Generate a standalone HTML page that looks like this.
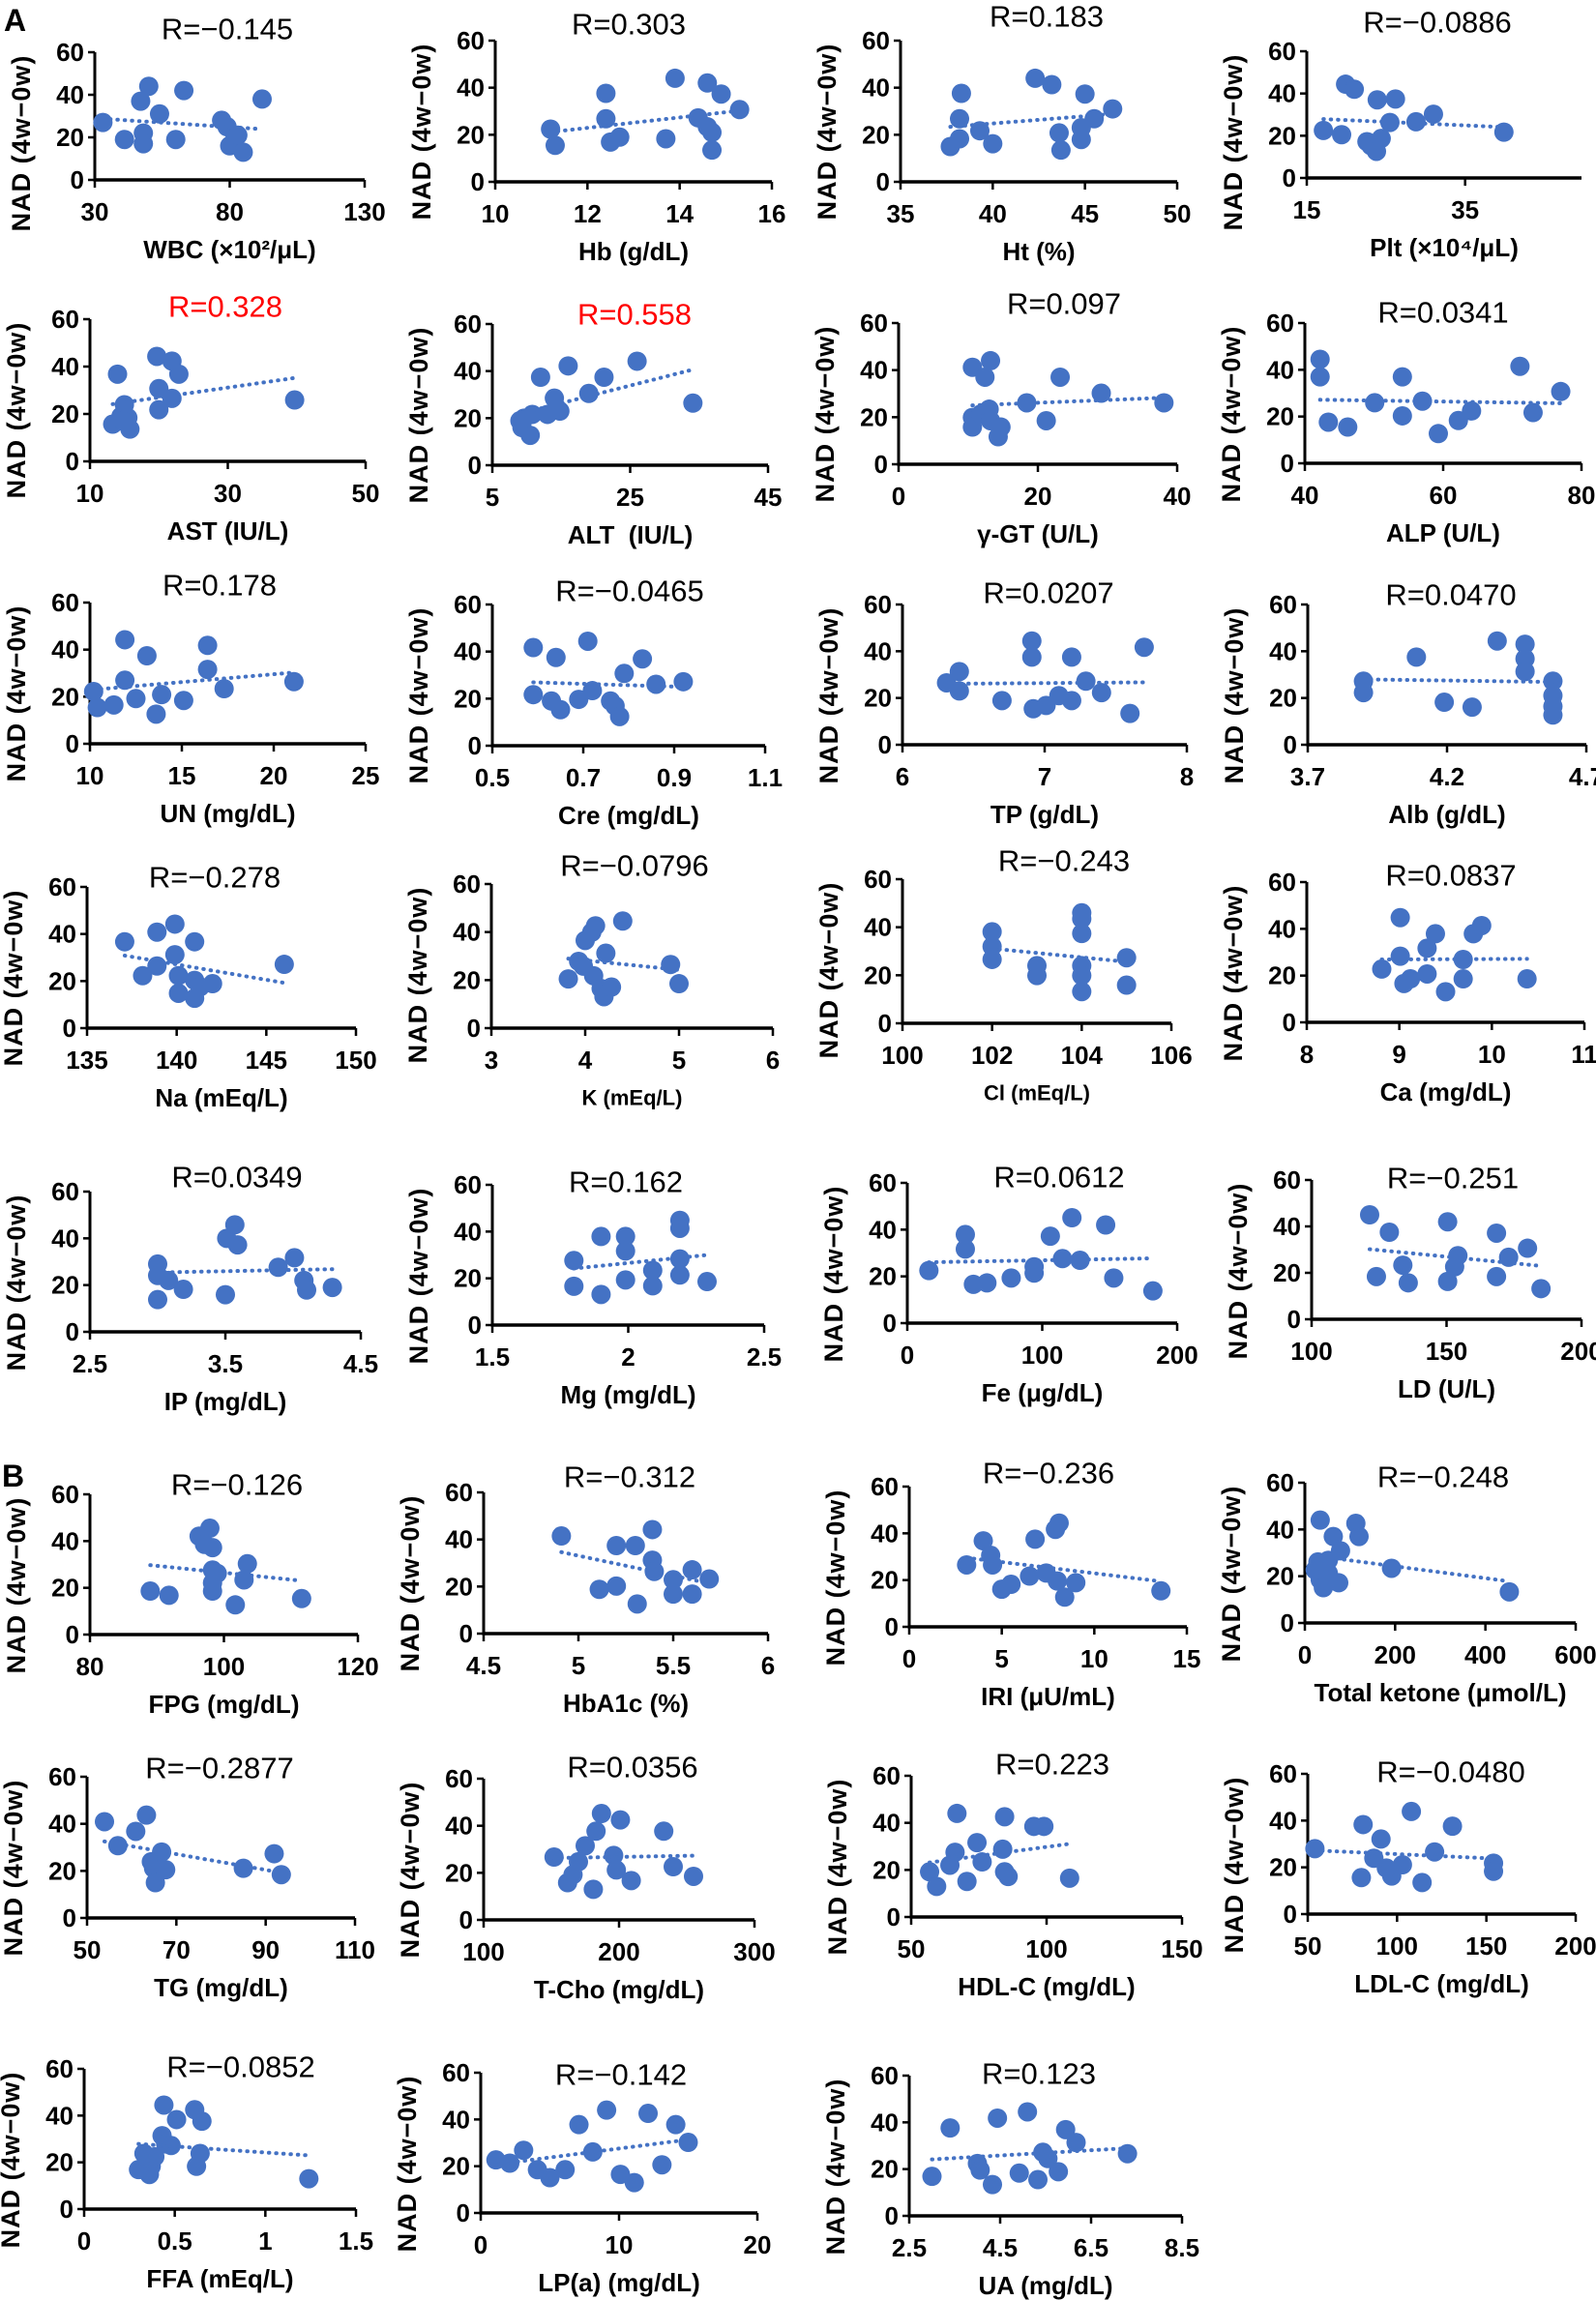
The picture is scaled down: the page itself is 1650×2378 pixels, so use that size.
<!DOCTYPE html>
<html><head><meta charset="utf-8"><title>NAD correlations</title>
<style>
html,body{margin:0;padding:0;background:#fff;}
svg{display:block;font-family:"Liberation Sans",Arial,sans-serif;}
</style></head>
<body>
<svg id="fig" xmlns="http://www.w3.org/2000/svg" width="1650" height="2378" viewBox="0 0 1650 2378">
<rect width="1650" height="2378" fill="#fff"/>
<text x="4" y="32" font-size="32" font-weight="bold">A</text>
<text x="2" y="1537" font-size="32" font-weight="bold">B</text>
</svg>
<script>
// ---- data (x values, NAD 4w-0w values) ----
const wbcX=[33,41,47,48,48,50,54,60,63,77,79,80,82,83,85,92];
const wbcY=[27,19,37,22,17,44,31,19,42,28,25,16,20,21,13,38];
const hbX=[11.2,11.3,12.4,12.4,12.5,12.7,13.7,13.9,14.4,14.6,14.6,14.7,14.7,14.9,15.3];
const hbY=[22.4,15.5,37.6,26.8,16.9,19,18.3,44,27.2,42,23.4,21,13.5,37.3,30.7];
const htX=[37.7,38.2,38.2,38.3,39.3,40,42.3,43.2,43.6,43.7,44.8,44.8,45,45.5,46.5];
const htY=[15,18.3,26.8,37.6,21.7,16.2,44,41.3,20.8,13.5,23,18,37.3,26.8,31];
const pltX=[17.1,19.4,19.9,21,22.6,23.1,23.8,23.9,24.4,25.5,26.2,28.8,31,39.9];
const pltY=[22.5,20.5,44.4,42,17.2,15.3,12.6,37,18.7,26.3,37.4,26.6,30.2,21.7];
const astX=[13.3,14,14.5,15,15.5,15.8,14.8,19.7,20,20,21.9,21.9,22.9,39.7];
const astY=[15.7,36.8,19,23.9,18.4,13.6,17,44.3,30.7,21.8,42.3,26.6,36.8,25.9];
const altX=[9,9.3,10.5,10.8,12,13,14,14.8,16,19,21.2,26,34.1,9.3,9.6];
const altY=[18.9,16,12.7,21.6,37.4,21.6,28.5,23,42.2,30.5,37.4,44.2,26.4,18,20];
const ggtX=[10.6,12.4,13.2,10.6,10.6,11.8,13,13.2,14.3,14.7,18.4,21.2,23.2,29.1,38.1];
const ggtY=[41.2,37,44,19.9,15.8,21.3,23.4,18.5,11.7,15.8,26.1,18.5,37,30.2,26.1];
const alpX=[42.2,42.2,43.4,46.2,50.1,54.1,54.1,57,59.3,62.2,64.1,71.1,73,77];
const alpY=[44.5,37,17.6,15.5,25.9,37,20.3,26.6,12.7,18.3,22.4,41.5,21.7,30.7];
const unX=[10.2,10.4,11.3,11.9,11.9,12.5,13.1,13.6,13.9,15.1,16.4,16.4,17.3,21.1];
const unY=[22.2,15.4,16.5,44.2,27,19.2,37.4,12.6,20.9,18.4,41.8,31.6,23.4,26.4];
const creX=[0.59,0.59,0.63,0.64,0.65,0.69,0.71,0.72,0.76,0.77,0.78,0.79,0.83,0.86,0.92];
const creY=[41.7,21.7,19,37.5,15.3,19.7,44.4,23.4,19,16.9,12.4,30.7,36.9,26.1,27.2];
const tpX=[6.31,6.4,6.4,6.7,6.91,6.91,6.92,7.01,7.1,7.19,7.19,7.29,7.4,7.6,7.7];
const tpY=[26.5,31.3,23,18.9,44.4,37.5,15.4,16.8,21,37.5,18.9,27.2,22.3,13.4,41.7];
const albX=[3.9,3.9,4.09,4.19,4.29,4.38,4.48,4.48,4.48,4.58,4.58,4.58,4.58];
const albY=[27.2,22.3,37.5,18.2,16.1,44.4,43,36.8,31.3,27.2,21,16.4,12.7];
const naX=[137.1,138.1,138.9,138.9,139.9,139.9,140.1,140.1,141,141,141,141.3,142,146];
const naY=[36.7,22.3,40.8,26.4,44.2,31.2,22.3,14.8,36.7,20.3,12.7,17.5,18.9,27.1];
const kX=[3.82,3.93,3.98,4,4.07,4.09,4.11,4.17,4.2,4.22,4.28,4.4,4.91,5];
const kY=[20.5,27.8,25.8,36.5,39.9,21.8,42.6,16.5,13.1,31.2,17.1,44.6,26.5,18.5];
const clX=[102,102,102,103,103,104,104,104,104,104,104,105,105];
const clY=[38.1,32,26.6,24,19.9,46,43.5,37.4,24,19.9,13.2,27.3,15.9];
const caX=[8.81,9.01,9.01,9.05,9.12,9.3,9.3,9.39,9.5,9.69,9.69,9.8,9.89,10.38];
const caY=[22.8,44.8,28.3,16.6,18.6,31.7,20.7,37.9,13.1,26.9,18.6,37.9,41.4,18.6];
const ipX=[3,3,3,3.08,3.19,3.5,3.51,3.57,3.59,3.89,4.01,4.08,4.1,4.29];
const ipY=[29,24.1,13.8,22,18.2,15.9,40,45.8,37.2,27.6,31.7,22,17.9,19];
const mgX=[1.8,1.8,1.9,1.9,1.99,1.99,1.99,2.09,2.09,2.19,2.19,2.19,2.19,2.29];
const mgY=[27.6,16.6,37.9,13.1,37.9,31.7,19.3,23.4,16.8,44.8,41.4,28.3,21.4,18.6];
const feX=[16,43,43,49,59,77,94,94,106,115,122,128,147,153,182];
const feY=[22.5,37.9,31.7,16.6,17.2,19.3,21.4,24.1,37.2,27.6,45.1,26.9,42,19.3,13.8];
const ldX=[121.5,124,128.8,133.8,135.8,150.4,150.4,153,154.2,168.5,168.5,173,180,185];
const ldY=[45,18.4,37.5,23.3,15.7,42,16.3,22.6,27.4,37.1,18.4,26.7,30.6,13.2];
const fpgX=[89,91.8,96.3,97.9,97.1,98.3,98.3,98.3,98.3,99,101.7,103,103.5,111.6];
const fpgY=[18.6,16.8,42.1,45.5,38.6,37.2,27.6,22.1,18.6,26.2,12.7,23.4,30.3,15.4];
const a1cX=[4.91,5.11,5.2,5.2,5.3,5.31,5.39,5.39,5.4,5.5,5.5,5.6,5.6,5.69];
const a1cY=[41.5,18.8,20.2,37.4,37.4,12.6,44.2,31.2,26.4,22.9,16.8,27.1,16.8,23.2];
const iriX=[3.1,4,4.4,4.5,5,5.5,6.5,6.8,7.4,7.9,8.1,8,8.4,9,13.6];
const iriY=[26.5,36.8,30.6,26.5,16.1,18.2,21.7,37.5,23,41.7,44.4,19.6,12.7,18.9,15.4];
const tkX=[34,29,34,41,52,63,75,79,113,120,52,23,192,453];
const tkY=[44,26.1,18.5,15.1,26.8,37,17.2,30.9,42.6,37,21.3,22.7,23.4,13.3];
const tgX=[53.9,56.9,60.9,63.3,64.4,64.9,65.3,66.7,67.6,85,91.9,93.5];
const tgY=[40.9,30.7,36.8,43.7,23.9,21.1,15,28,20.5,21.1,27.3,18.4];
const tchoX=[152,162,166,170,175,181,183,187,196,198,201,209,233,240,255];
const tchoY=[26.7,15.8,19.2,24.7,31.5,13,37.7,45.2,27.4,21.2,42.5,16.7,37.7,22.6,18.5];
const hdlX=[56.8,59.4,64.3,66.2,66.9,70.6,74.3,76.2,83.8,84.5,84.5,85.8,95.3,99,108.5];
const hdlY=[19.2,13,22,27.5,44,15.1,31.6,23.4,28.8,42.6,19.2,17.2,38.5,38.5,16.5];
const ldlX=[54,80,81,87,91,94,97,103,108,114,121,131,154,154];
const ldlY=[28,15.6,38.3,23.9,32.1,19.7,16.3,21.1,43.9,13.5,26.6,37.6,21.8,18.3];
const ffaX=[0.3,0.33,0.36,0.37,0.39,0.43,0.44,0.45,0.48,0.51,0.61,0.62,0.64,0.65,1.24];
const ffaY=[16.9,23.8,14.8,18.3,22.4,31.4,44.5,27.9,27.2,38.3,42.5,18.3,23.8,37.6,13];
const lpaX=[1.1,2.1,3.1,4.1,5,6.1,7.1,8.1,9.1,10.1,11.1,12.1,13.1,14.1,15];
const lpaY=[22.7,21.3,26.8,18.5,15.1,18.5,37.8,26.1,44,16.5,13,42.6,20.6,37.8,30.2];
const uaX=[3,3.4,4,4.06,4.33,4.44,4.92,5.1,5.33,5.44,5.55,5.78,5.94,6.17,7.3];
const uaY=[16.9,37.6,22.4,19.6,13.4,41.8,18.3,44.5,15.5,27.2,24.5,18.9,36.9,31.4,26.6];

// ---- tick values ----
const yTicks=[0,20,40,60];

// ---- panel layout ----
const panels=[
 {id:'wbc',xs:wbcX,ys:wbcY,title:'R=\u22120.145',xl:'WBC (\u00d710\u00b2/\u03bcL)',ax:98,rx:377,yt:54,yb:186,x0:30,x1:130,tk:[30,80,130],tx:235,ty:30},
 {id:'hb',xs:hbX,ys:hbY,title:'R=0.303',xl:'Hb (g/dL)',ax:512,rx:798,yt:42,yb:188,x0:10,x1:16,tk:[10,12,14,16],tx:650,ty:25},
 {id:'ht',xs:htX,ys:htY,title:'R=0.183',xl:'Ht (%)',ax:931,rx:1217,yt:42,yb:188,x0:35,x1:50,tk:[35,40,45,50],tx:1082,ty:17},
 {id:'plt',xs:pltX,ys:pltY,title:'R=\u22120.0886',xl:'Plt (\u00d710\u2074/\u03bcL)',ax:1351,rx:1635,yt:53,yb:184,x0:15,x1:49.7,tk:[15,35],tx:1486,ty:23},
 {id:'ast',xs:astX,ys:astY,title:'R=0.328',red:1,xl:'AST (IU/L)',ax:93,rx:378,yt:330,yb:477,x0:10,x1:50,tk:[10,30,50],tx:233,ty:317},
 {id:'alt',xs:altX,ys:altY,title:'R=0.558',red:1,xl:'ALT\u00a0 (IU/L)',ax:509,rx:794,yt:335,yb:481,x0:5,x1:45,tk:[5,25,45],tx:656,ty:325},
 {id:'ggt',xs:ggtX,ys:ggtY,title:'R=0.097',xl:'\u03b3-GT (U/L)',ax:929,rx:1217,yt:334,yb:480,x0:0,x1:40,tk:[0,20,40],tx:1100,ty:314},
 {id:'alp',xs:alpX,ys:alpY,title:'R=0.0341',xl:'ALP (U/L)',ax:1349,rx:1635,yt:334,yb:479,x0:40,x1:80,tk:[40,60,80],tx:1492,ty:323},
 {id:'un',xs:unX,ys:unY,title:'R=0.178',xl:'UN (mg/dL)',ax:93,rx:378,yt:623,yb:769,x0:10,x1:25,tk:[10,15,20,25],tx:227,ty:605},
 {id:'cre',xs:creX,ys:creY,title:'R=\u22120.0465',xl:'Cre (mg/dL)',ax:509,rx:791,yt:625,yb:771,x0:0.5,x1:1.1,tk:[0.5,0.7,0.9,1.1],tx:651,ty:611},
 {id:'tp',xs:tpX,ys:tpY,title:'R=0.0207',xl:'TP (g/dL)',ax:933,rx:1227,yt:625,yb:770,x0:6,x1:8,tk:[6,7,8],tx:1084,ty:613},
 {id:'alb',xs:albX,ys:albY,title:'R=0.0470',xl:'Alb (g/dL)',ax:1352,rx:1640,yt:625,yb:770,x0:3.7,x1:4.7,tk:[3.7,4.2,4.7],tx:1500,ty:615},
 {id:'na',xs:naX,ys:naY,title:'R=\u22120.278',xl:'Na (mEq/L)',ax:90,rx:368,yt:917,yb:1063,x0:135,x1:150,tk:[135,140,145,150],tx:222,ty:907},
 {id:'k',xs:kX,ys:kY,title:'R=\u22120.0796',xl:'K (mEq/L)',small:1,ax:508,rx:799,yt:914,yb:1063,x0:3,x1:6,tk:[3,4,5,6],tx:656,ty:895},
 {id:'cl',xs:clX,ys:clY,title:'R=\u22120.243',xl:'Cl (mEq/L)',small:1,ax:933,rx:1211,yt:909,yb:1058,x0:100,x1:106,tk:[100,102,104,106],tx:1100,ty:890},
 {id:'ca',xs:caX,ys:caY,title:'R=0.0837',xl:'Ca (mg/dL)',ax:1351,rx:1638,yt:912,yb:1057,x0:8,x1:11,tk:[8,9,10,11],tx:1500,ty:905},
 {id:'ip',xs:ipX,ys:ipY,title:'R=0.0349',xl:'IP (mg/dL)',ax:93,rx:373,yt:1232,yb:1377,x0:2.5,x1:4.5,tk:[2.5,3.5,4.5],tx:245,ty:1217},
 {id:'mg',xs:mgX,ys:mgY,title:'R=0.162',xl:'Mg (mg/dL)',ax:509,rx:790,yt:1225,yb:1370,x0:1.5,x1:2.5,tk:[1.5,2,2.5],tx:647,ty:1222},
 {id:'fe',xs:feX,ys:feY,title:'R=0.0612',xl:'Fe (\u03bcg/dL)',ax:938,rx:1217,yt:1223,yb:1368,x0:0,x1:200,tk:[0,100,200],tx:1095,ty:1217},
 {id:'ld',xs:ldX,ys:ldY,title:'R=\u22120.251',xl:'LD (U/L)',ax:1356,rx:1635,yt:1220,yb:1364,x0:100,x1:200,tk:[100,150,200],tx:1502,ty:1218},
 {id:'fpg',xs:fpgX,ys:fpgY,title:'R=\u22120.126',xl:'FPG (mg/dL)',ax:93,rx:370,yt:1545,yb:1690,x0:80,x1:120,tk:[80,100,120],tx:245,ty:1535},
 {id:'hba1c',xs:a1cX,ys:a1cY,title:'R=\u22120.312',xl:'HbA1c (%)',ax:500,rx:794,yt:1543,yb:1689,x0:4.5,x1:6,tk:[4.5,5,5.5,6],tx:651,ty:1527},
 {id:'iri',xs:iriX,ys:iriY,title:'R=\u22120.236',xl:'IRI (\u03bcU/mL)',ax:940,rx:1227,yt:1537,yb:1682,x0:0,x1:15,tk:[0,5,10,15],tx:1084,ty:1523},
 {id:'ketone',xs:tkX,ys:tkY,title:'R=\u22120.248',xl:'Total ketone (\u03bcmol/L)',ax:1349,rx:1629,yt:1533,yb:1678,x0:0,x1:600,tk:[0,200,400,600],tx:1492,ty:1527},
 {id:'tg',xs:tgX,ys:tgY,title:'R=\u22120.2877',xl:'TG (mg/dL)',ax:90,rx:367,yt:1837,yb:1983,x0:50,x1:110,tk:[50,70,90,110],tx:227,ty:1828},
 {id:'tcho',xs:tchoX,ys:tchoY,title:'R=0.0356',xl:'T-Cho (mg/dL)',ax:500,rx:780,yt:1839,yb:1985,x0:100,x1:300,tk:[100,200,300],tx:654,ty:1827},
 {id:'hdl',xs:hdlX,ys:hdlY,title:'R=0.223',xl:'HDL-C (mg/dL)',ax:942,rx:1222,yt:1836,yb:1982,x0:50,x1:150,tk:[50,100,150],tx:1088,ty:1824},
 {id:'ldl',xs:ldlX,ys:ldlY,title:'R=\u22120.0480',xl:'LDL-C (mg/dL)',ax:1352,rx:1629,yt:1834,yb:1979,x0:50,x1:200,tk:[50,100,150,200],tx:1500,ty:1832},
 {id:'ffa',xs:ffaX,ys:ffaY,title:'R=\u22120.0852',xl:'FFA (mEq/L)',ax:87,rx:368,yt:2139,yb:2284,x0:0,x1:1.5,tk:[0,0.5,1,1.5],tx:249,ty:2137},
 {id:'lpa',xs:lpaX,ys:lpaY,title:'R=\u22120.142',xl:'LP(a) (mg/dL)',ax:497,rx:783,yt:2143,yb:2288,x0:0,x1:20,tk:[0,10,20],tx:642,ty:2145},
 {id:'ua',xs:uaX,ys:uaY,title:'R=0.123',xl:'UA (mg/dL)',ax:940,rx:1222,yt:2146,yb:2291,x0:2.5,x1:8.5,tk:[2.5,4.5,6.5,8.5],tx:1074,ty:2144}
];

const NS='http://www.w3.org/2000/svg';
const svg=document.getElementById('fig');
const BLUE='#4472C4';
function mk(tag,attrs,parent){
  const e=document.createElementNS(NS,tag);
  for(const k in attrs) e.setAttribute(k,attrs[k]);
  parent.appendChild(e);
  return e;
}

panels.forEach(p=>{
  const sx=v=>p.ax+(v-p.x0)/(p.x1-p.x0)*(p.rx-p.ax);
  const sy=v=>p.yb-(v-0)/(60-0)*(p.yb-p.yt);
  const g=mk('g',{},svg);
  
  

  const t=mk('text',{x:p.tx,y:p.ty,'font-size':31,'text-anchor':'middle','dominant-baseline':'central',fill:p.red?'#FF0000':'#000'},g);
  t.textContent=p.title;
  
  

  const cy=p.yt+94, cx=p.ax-76;
  const yt=mk('text',{x:cx,y:cy,'font-size':27,'font-weight':'bold','letter-spacing':1,'text-anchor':'middle','dominant-baseline':'central',transform:'rotate(-90 '+cx+' '+cy+')'},g);
  yt.textContent='NAD (4w\u22120w)';
  
  

  const ya=mk('line',{x1:p.ax,y1:p.yt,x2:p.ax,y2:p.yb,stroke:'#000','stroke-width':3},g);
  
  
  const xa=mk('line',{x1:p.ax-1.5,y1:p.yb,x2:p.rx,y2:p.yb,stroke:'#000','stroke-width':3.5},g);
  
  

  yTicks.forEach(v=>{
    const y=sy(v);
    mk('line',{x1:p.ax-7,y1:y,x2:p.ax,y2:y,stroke:'#000','stroke-width':2.5},g);
    const l=mk('text',{x:p.ax-11,y:y,'font-size':26,'font-weight':'bold','text-anchor':'end','dominant-baseline':'central'},g);
    l.textContent=String(v);
    
    
  });
  p.tk.forEach(v=>{
    const x=sx(v);
    mk('line',{x1:x,y1:p.yb,x2:x,y2:p.yb+8,stroke:'#000','stroke-width':2.5},g);
    const l=mk('text',{x:x,y:p.yb+33,'font-size':26,'font-weight':'bold','text-anchor':'middle','dominant-baseline':'central'},g);
    l.textContent=String(v);
    
    
  });

  const xl=mk('text',{x:(p.ax+p.rx)/2,y:p.yb+72,'font-size':p.small?22:26,'font-weight':'bold','text-anchor':'middle','dominant-baseline':'central'},g);
  xl.textContent=p.xl;
  
  

  p.xs.forEach((xv,i)=>{
    const c=mk('circle',{cx:sx(xv),cy:sy(p.ys[i]),r:10,fill:BLUE},g);
    
    
  });

  const n=p.xs.length;
  const mx=p.xs.reduce((a,b)=>a+b,0)/n, my=p.ys.reduce((a,b)=>a+b,0)/n;
  let sxy=0,sxx=0;
  p.xs.forEach((xv,i)=>{sxy+=(xv-mx)*(p.ys[i]-my);sxx+=(xv-mx)*(xv-mx);});
  const b=sxx?sxy/sxx:0, a=my-b*mx;
  const xmin=Math.min(...p.xs), xmax=Math.max(...p.xs);
  const tl=mk('line',{x1:sx(xmin),y1:sy(a+b*xmin),x2:sx(xmax),y2:sy(a+b*xmax),stroke:BLUE,'stroke-width':4,'stroke-dasharray':'0.5 7','stroke-linecap':'round'},g);
  
  
});
</script>
</body></html>
